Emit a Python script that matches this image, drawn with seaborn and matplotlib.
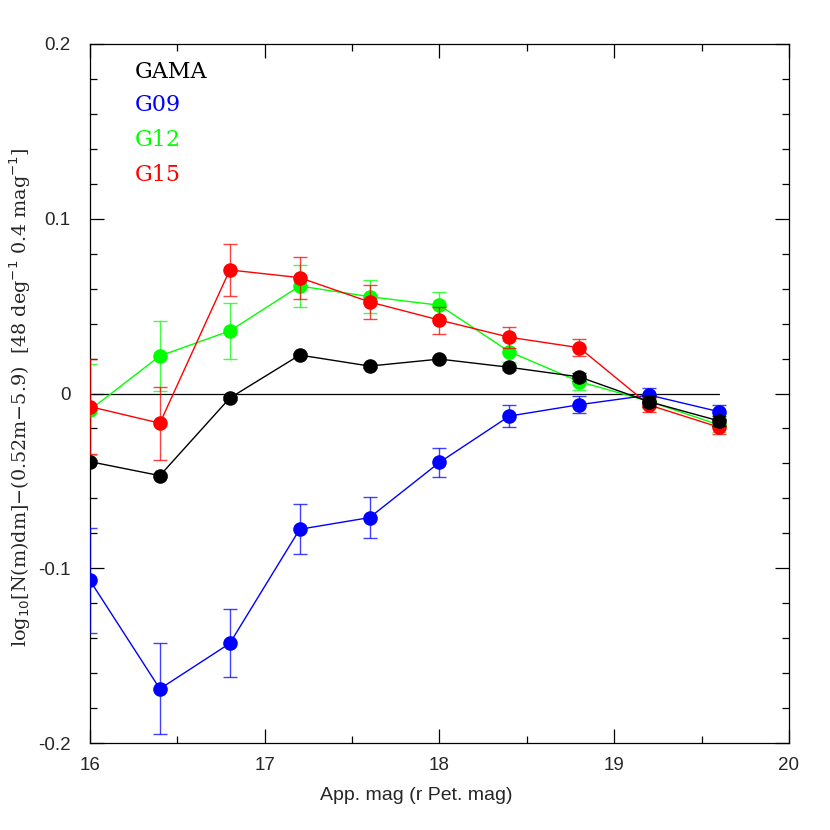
import numpy as np
import pandas as pd
import matplotlib
matplotlib.use("Agg")
import matplotlib.pyplot as plt
import seaborn as sns
from matplotlib.ticker import MultipleLocator

mags = [16.0, 16.4, 16.8, 17.2, 17.6, 18.0, 18.4, 18.8, 19.2, 19.6]

gama = [-0.039, -0.047, -0.0026, 0.022, 0.0157, 0.0197, 0.015, 0.0095, -0.0047, -0.0157]
gama_err = [0.001, 0.001, 0.001, 0.001, 0.001, 0.001, 0.0015, 0.0025, 0.003, 0.003]

g09 = [-0.107, -0.169, -0.143, -0.0777, -0.071, -0.0394, -0.0129, -0.0064, -0.0009, -0.0104]
g09_err = [0.030, 0.026, 0.0195, 0.0143, 0.0117, 0.0083, 0.0063, 0.005, 0.004, 0.004]

g12 = [-0.0094, 0.0215, 0.0358, 0.0615, 0.0554, 0.0505, 0.0239, 0.0068, -0.0045, -0.018]
g12_err = [0.026, 0.020, 0.016, 0.012, 0.0095, 0.0075, 0.006, 0.005, 0.004, 0.004]

g15 = [-0.0075, -0.017, 0.0707, 0.0663, 0.0524, 0.042, 0.0322, 0.0262, -0.0066, -0.0193]
g15_err = [0.027, 0.021, 0.015, 0.012, 0.0097, 0.0077, 0.006, 0.0048, 0.004, 0.004]

regions = ["GAMA", "G09", "G12", "G15"]
colors = {"GAMA": "#000000", "G09": "#0000ff", "G12": "#00ff00", "G15": "#ff0000"}

zero_x = [16.0, 19.6]
zero_y = [0.0, 0.0]

x_ticks = [16, 17, 18, 19, 20]
y_ticks = [-0.2, -0.1, 0.0, 0.1, 0.2]
y_tick_labels = ["-0.2", "-0.1", "0", "0.1", "0.2"]

series = {"GAMA": (gama, gama_err), "G09": (g09, g09_err),
          "G12": (g12, g12_err), "G15": (g15, g15_err)}

rows = []
for r in regions:
    vals, errs = series[r]
    for m, v, e in zip(mags, vals, errs):
        rows.append({"mag": m, "val": v, "err": e, "region": r})
df = pd.DataFrame(rows)

sns.set_theme(style="white")
plt.rcParams['font.family'] = ['Liberation Sans', 'DejaVu Sans']

fig = plt.figure(figsize=(8.3, 8.3), dpi=100)
ax = fig.add_axes([0.1084, 0.1048, 0.8422, 0.8422])

ax.plot(zero_x, zero_y, color="black", lw=0.9, zorder=1)

draw_order = ["G12", "G09", "G15", "GAMA"]
for i, r in enumerate(draw_order):
    sub = df[df.region == r]
    ax.errorbar(sub["mag"], sub["val"], yerr=sub["err"], fmt="none",
                ecolor=colors[r], elinewidth=1.0, capsize=4.7, capthick=1.0,
                alpha=0.75, zorder=2 + i * 2)
    sns.lineplot(data=sub, x="mag", y="val", color=colors[r], marker="o",
                 markersize=10.5, markeredgewidth=0, linewidth=1.0,
                 ax=ax, zorder=3 + i * 2, legend=False, estimator=None, sort=False)

ax.set_xlim(16, 20)
ax.set_ylim(-0.2, 0.2)
ax.set_xticks(x_ticks)
ax.set_xticklabels([str(t) for t in x_ticks])
ax.set_yticks(y_ticks)
ax.set_yticklabels(y_tick_labels)
ax.xaxis.set_minor_locator(MultipleLocator(0.5))
ax.yaxis.set_minor_locator(MultipleLocator(0.02))
ax.tick_params(axis="both", which="both", direction="in", top=True, right=True,
               bottom=True, left=True, color="black", width=0.9)
ax.tick_params(axis="both", which="major", length=10, labelsize=13.5)
ax.tick_params(axis="both", which="minor", length=5)
ax.tick_params(axis="x", which="major", pad=10)
ax.tick_params(axis="y", which="major", pad=14)
for s in ax.spines.values():
    s.set_color("black")
    s.set_linewidth(0.9)
ax.set_xlabel("")
ax.set_ylabel("")

fig.text(416 / 830, 1 - 795 / 830, "App. mag (r Pet. mag)", ha="center", va="center",
         fontsize=14)
fig.text(20 / 830, 1 - 397 / 830,
         r"log$_{10}$[N(m)dm]$-$(0.52m$-$5.9)  [48 deg$^{-1}$ 0.4 mag$^{-1}$]",
         rotation=90, ha="center", va="center", fontsize=13.8,
         family=["DejaVu Serif"])

leg_y = [0.96, 0.913, 0.863, 0.8126]
for r, yy in zip(regions, leg_y):
    ax.text(0.064, yy, r, transform=ax.transAxes, color=colors[r], fontsize=16,
            ha="left", va="center", family=["DejaVu Serif"])

fig.savefig("out.png", dpi=100)
